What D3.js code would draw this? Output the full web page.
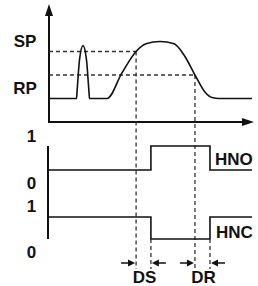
<!DOCTYPE html>
<html><head><meta charset="utf-8">
<script src="https://cdn.jsdelivr.net/npm/d3@7"></script>
<style>html,body{margin:0;padding:0;background:#fff;}svg{display:block;}text{font-family:"Liberation Sans",Arial,sans-serif;font-weight:bold;fill:#111;}</style>
</head><body><svg id="c" width="258" height="286"></svg>
<script>
// process signal (time units 0..100, level units 0..10)
const processT = [0, 13.55, 13.94, 15.02, 16.75, 18.47, 19.56, 19.95, 28.6, 36.0, 42.9, 47.8, 54.7, 61.6, 66.5, 71.9, 76.8, 80.3, 83.7, 100];
const processV = [2, 2, 2.88, 5.28, 6.5, 5.28, 2.88, 2, 2, 4.2, 6.0, 6.65, 6.85, 6.65, 5.7, 4.0, 2.55, 2.08, 2, 2];
// set / reset levels
const levelLabels = ["SP", "RP"];
const levelValues = [6, 4];
const levelCrossT = [42.9, 71.9];
// switching outputs
const switchT = [0, 50.2, 50.2, 79.3, 79.3, 100];
const hnoV = [0, 0, 1, 1, 0, 0];
const hncV = [1, 1, 0, 0, 1, 1];
const outputLabels = ["HNO", "HNC"];
const stateLabels = ["1", "0"];
const delayLabels = ["DS", "DR"];

const svg = d3.select("#c");
const x = d3.scaleLinear().domain([0, 100]).range([49, 252]);
const yTop = d3.scaleLinear().domain([0, 10]).range([122, 4.5]);
const yHNO = d3.scaleLinear().domain([0, 1]).range([170, 146]);
const yHNC = d3.scaleLinear().domain([0, 1]).range([239, 217]);
const col = "#111";
const dashY = 269;

// axes top
svg.append("line").attr("x1", x(0)).attr("x2", x(0)).attr("y1", yTop(0)).attr("y2", 14).attr("stroke", col).attr("stroke-width", 2);
svg.append("line").attr("x1", x(0) - 1).attr("x2", 244).attr("y1", yTop(0)).attr("y2", yTop(0)).attr("stroke", col).attr("stroke-width", 2);
svg.append("path").attr("d", `M${x(0)},${yTop(10.05)} L${x(0) - 4},${yTop(10.05) + 12} L${x(0) + 4},${yTop(10.05) + 12}Z`).attr("fill", col);
svg.append("path").attr("d", `M${x(100) + 2},${yTop(0)} L${x(100) - 10},${yTop(0) - 4} L${x(100) - 10},${yTop(0) + 4}Z`).attr("fill", col);

// dashed level lines
levelValues.forEach((v, i) => {
  svg.append("line").attr("x1", x(0)).attr("x2", x(levelCrossT[i])).attr("y1", yTop(v)).attr("y2", yTop(v))
    .attr("stroke", "#333").attr("stroke-width", 1.3).attr("stroke-dasharray", "4,3");
  svg.append("line").attr("x1", x(levelCrossT[i])).attr("x2", x(levelCrossT[i])).attr("y1", yTop(v)).attr("y2", dashY)
    .attr("stroke", "#333").attr("stroke-width", 1.3).attr("stroke-dasharray", "4,3");
  svg.append("text").attr("x", 25).attr("y", yTop(v) + [-5, 19][i]).attr("text-anchor", "middle").attr("font-size", 17).text(levelLabels[i]);
});

// process curve
const line = d3.line().x(d => x(d[0])).y(d => yTop(d[1])).curve(d3.curveMonotoneX);
svg.append("path").attr("d", line(processT.map((t, i) => [t, processV[i]]))).attr("fill", "none").attr("stroke", col).attr("stroke-width", 1.6);

// bottom axis
svg.append("line").attr("x1", 48).attr("x2", 48).attr("y1", yHNO(1)).attr("y2", yHNC(0)).attr("stroke", col).attr("stroke-width", 2);

// outputs
const stepLine = (ys) => d3.line().x(d => x(d[0])).y(d => ys(d[1]));
svg.append("path").attr("d", stepLine(yHNO)(switchT.map((t, i) => [t, hnoV[i]]))).attr("fill", "none").attr("stroke", col).attr("stroke-width", 1.6);
svg.append("path").attr("d", stepLine(yHNC)(switchT.map((t, i) => [t, hncV[i]]))).attr("fill", "none").attr("stroke", col).attr("stroke-width", 1.6);

// switching dashed lines
[switchT[1], switchT[3]].forEach(t => {
  svg.append("line").attr("x1", x(t)).attr("x2", x(t)).attr("y1", yHNC(0)).attr("y2", dashY)
    .attr("stroke", "#333").attr("stroke-width", 1.3).attr("stroke-dasharray", "4,3");
});

// output labels
svg.append("text").attr("x", 215).attr("y", yHNO(0) - 5).attr("font-size", 17).text(outputLabels[0]);
svg.append("text").attr("x", 216).attr("y", yHNC(1) + 21).attr("font-size", 17).text(outputLabels[1]);

// state labels
[[yHNO(1) - 4, 0], [yHNO(0) + 19, 1], [yHNC(1) - 5, 0], [yHNC(0) + 19, 1]].forEach(([yy, k]) => {
  svg.append("text").attr("x", 31.5).attr("y", yy).attr("text-anchor", "middle").attr("font-size", 17).text(stateLabels[k]);
});

// delay arrows
const ay = 263;
function arrow(tip, dir) { // dir +1 pointing right
  const tx = x(tip) + (dir > 0 ? -1 : 1);
  svg.append("line").attr("x1", tx - dir * 14).attr("x2", tx - dir * 4).attr("y1", ay).attr("y2", ay).attr("stroke", col).attr("stroke-width", 1.5);
  svg.append("path").attr("d", `M${tx},${ay} L${tx - dir * 7},${ay - 3.5} L${tx - dir * 7},${ay + 3.5}Z`).attr("fill", col);
}
const delayPairs = [[levelCrossT[0], switchT[1]], [levelCrossT[1], switchT[3]]];
delayPairs.forEach((p, i) => {
  arrow(p[0], 1);
  arrow(p[1], -1);
  svg.append("text").attr("x", (x(p[0]) + x(p[1])) / 2 + 1).attr("y", 283).attr("text-anchor", "middle").attr("font-size", 17).text(delayLabels[i]);
});
</script></body></html>
